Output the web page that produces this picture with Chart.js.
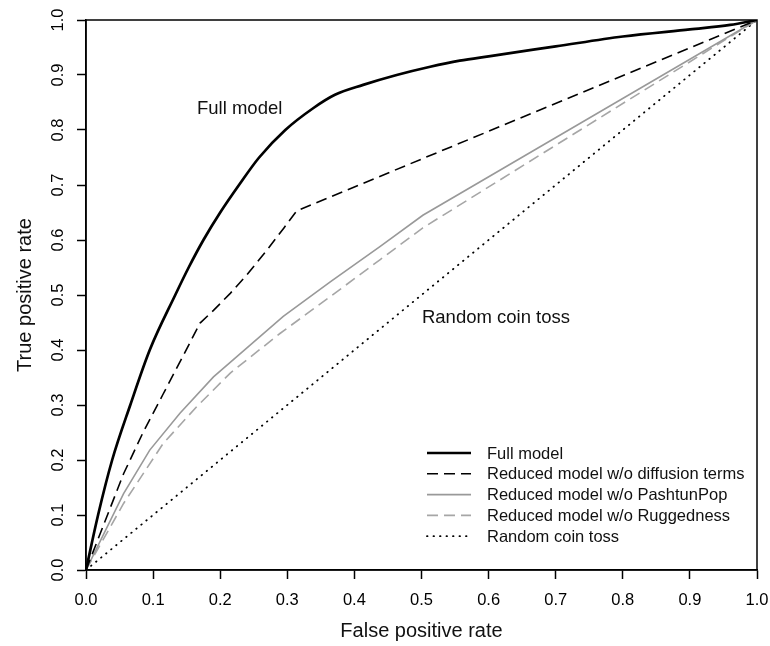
<!DOCTYPE html>
<html>
<head>
<meta charset="utf-8">
<script src="https://cdn.jsdelivr.net/npm/chart.js@4.4.1/dist/chart.umd.min.js"></script>
<style>
  html, body { margin: 0; padding: 0; background: #fff; }
</style>
</head>
<body>
<canvas id="rocChart" width="770" height="646"></canvas>
<script>
// ROC curves (false positive rate / true positive rate)
const fullFpr = [0, 0.018, 0.039, 0.066, 0.095, 0.133, 0.153, 0.175, 0.200, 0.228, 0.258, 0.297, 0.339, 0.371, 0.413, 0.463, 0.513, 0.557, 0.6, 0.7, 0.8, 0.9, 0.96, 1.0];
const fullTpr = [0, 0.100, 0.200, 0.300, 0.400, 0.500, 0.550, 0.600, 0.650, 0.700, 0.750, 0.800, 0.840, 0.864, 0.882, 0.900, 0.915, 0.926, 0.934, 0.952, 0.970, 0.983, 0.991, 1.0];

const diffFpr = [0, 0.056, 0.085, 0.115, 0.145, 0.170, 0.190, 0.215, 0.240, 0.270, 0.295, 0.314, 1.0];
const diffTpr = [0, 0.175, 0.250, 0.320, 0.390, 0.449, 0.472, 0.503, 0.537, 0.582, 0.622, 0.653, 1.0];

const pashFpr = [0, 0.056, 0.095, 0.140, 0.190, 0.294, 0.364, 0.438, 0.502, 1.0];
const pashTpr = [0, 0.139, 0.218, 0.285, 0.351, 0.461, 0.524, 0.588, 0.645, 1.0];

const ruggFpr = [0, 0.056, 0.115, 0.165, 0.215, 0.289, 0.364, 0.438, 0.502, 1.0];
const ruggTpr = [0, 0.121, 0.230, 0.297, 0.358, 0.430, 0.497, 0.564, 0.622, 1.0];

const coinFpr = [0, 1];
const coinTpr = [0, 1];

const axisTicks = [0, 0.1, 0.2, 0.3, 0.4, 0.5, 0.6, 0.7, 0.8, 0.9, 1.0];

const labels = {
    full: 'Full model',
    diff: 'Reduced model w/o diffusion terms',
    pash: 'Reduced model w/o PashtunPop',
    rugg: 'Reduced model w/o Ruggedness',
    coin: 'Random coin toss'
};

const FONT = '"Liberation Sans", Arial, Helvetica, sans-serif';
Chart.defaults.font.family = FONT;
Chart.defaults.color = '#000';

function pts(xs, ys) {
    return xs.map((x, i) => ({ x: x, y: ys[i] }));
}

// text labels placed in data coordinates
const notes = [
    { text: 'Full model', x: 0.229, y: 0.839 },
    { text: 'Random coin toss', x: 0.611, y: 0.458 }
];

const frameAndNotes = {
    id: 'frameAndNotes',
    afterDatasetsDraw(chart) {
        const { ctx, chartArea: a, scales } = chart;
        ctx.save();
        ctx.strokeStyle = '#000';
        ctx.lineWidth = 1.5;
        ctx.strokeRect(a.left, a.top, a.right - a.left, a.bottom - a.top);

        ctx.fillStyle = '#111';
        ctx.font = '18.5px ' + FONT;
        ctx.textAlign = 'center';
        ctx.textBaseline = 'middle';
        notes.forEach(n => {
            ctx.fillText(n.text, scales.x.getPixelForValue(n.x), scales.y.getPixelForValue(n.y));
        });

        // legend, bottom right inside the plot
        const x0 = a.left + 341, y0 = a.bottom - 117, rowH = 20.8;
        ctx.font = '16.5px ' + FONT;
        ctx.textAlign = 'left';
        chart.data.datasets.forEach((ds, i) => {
            const y = y0 + i * rowH;
            ctx.beginPath();
            ctx.strokeStyle = ds.borderColor;
            ctx.lineWidth = ds.borderWidth;
            ctx.lineCap = ds.borderCapStyle || 'butt';
            ctx.setLineDash(ds.borderDash || []);
            ctx.moveTo(x0, y);
            ctx.lineTo(x0 + 44, y);
            ctx.stroke();
            ctx.setLineDash([]);
            ctx.fillText(ds.label, x0 + 60, y + 1);
        });
        ctx.restore();
    }
};

const tickFont = { size: 16.5 };

new Chart(document.getElementById('rocChart'), {
    type: 'line',
    data: {
        datasets: [
            {
                label: labels.full,
                data: pts(fullFpr, fullTpr),
                borderColor: '#000',
                borderWidth: 2.7,
                cubicInterpolationMode: 'monotone'
            },
            {
                label: labels.diff,
                data: pts(diffFpr, diffTpr),
                borderColor: '#000',
                borderWidth: 1.6,
                borderDash: [11, 6]
            },
            {
                label: labels.pash,
                data: pts(pashFpr, pashTpr),
                borderColor: '#999',
                borderWidth: 1.6
            },
            {
                label: labels.rugg,
                data: pts(ruggFpr, ruggTpr),
                borderColor: '#a6a6a6',
                borderWidth: 1.6,
                borderDash: [11, 6]
            },
            {
                label: labels.coin,
                data: pts(coinFpr, coinTpr),
                borderColor: '#000',
                borderWidth: 1.8,
                borderDash: [0.5, 6],
                borderCapStyle: 'round'
            }
        ]
    },
    options: {
        responsive: false,
        animation: false,
        events: [],
        elements: { point: { radius: 0 }, line: { tension: 0, fill: false } },
        layout: { padding: { left: 0, top: 20, right: 13, bottom: 0 } },
        plugins: { legend: { display: false }, tooltip: { enabled: false } },
        scales: {
            x: {
                type: 'linear',
                min: 0,
                max: 1,
                afterBuildTicks: s => { s.ticks = axisTicks.map(v => ({ value: v })); },
                afterFit: s => { s.height = 76; s.paddingLeft = 0; s.paddingRight = 0; },
                ticks: {
                    font: tickFont,
                    color: '#000',
                    maxRotation: 0,
                    padding: 12,
                    callback: v => v.toFixed(1)
                },
                grid: { drawOnChartArea: false, drawTicks: true, tickLength: 9, tickWidth: 1.5, tickColor: '#000' },
                border: { display: true, color: '#000', width: 1.5 },
                title: { display: true, text: 'False positive rate', font: { size: 20 }, color: '#111', padding: { top: 0, bottom: 3 } }
            },
            y: {
                type: 'linear',
                min: 0,
                max: 1,
                afterBuildTicks: s => { s.ticks = axisTicks.map(v => ({ value: v })); },
                afterFit: s => { s.width = 86; s.paddingTop = 0; s.paddingBottom = 0; },
                ticks: {
                    font: tickFont,
                    color: '#000',
                    minRotation: 90,
                    maxRotation: 90,
                    crossAlign: 'center',
                    padding: 7.5,
                    callback: v => v.toFixed(1)
                },
                grid: { drawOnChartArea: false, drawTicks: true, tickLength: 9, tickWidth: 1.5, tickColor: '#000' },
                border: { display: true, color: '#000', width: 1.5 },
                title: { display: true, text: 'True positive rate', font: { size: 20 }, color: '#111', padding: { top: 13, bottom: 0 } }
            }
        }
    },
    plugins: [frameAndNotes]
});
</script>
</body>
</html>
